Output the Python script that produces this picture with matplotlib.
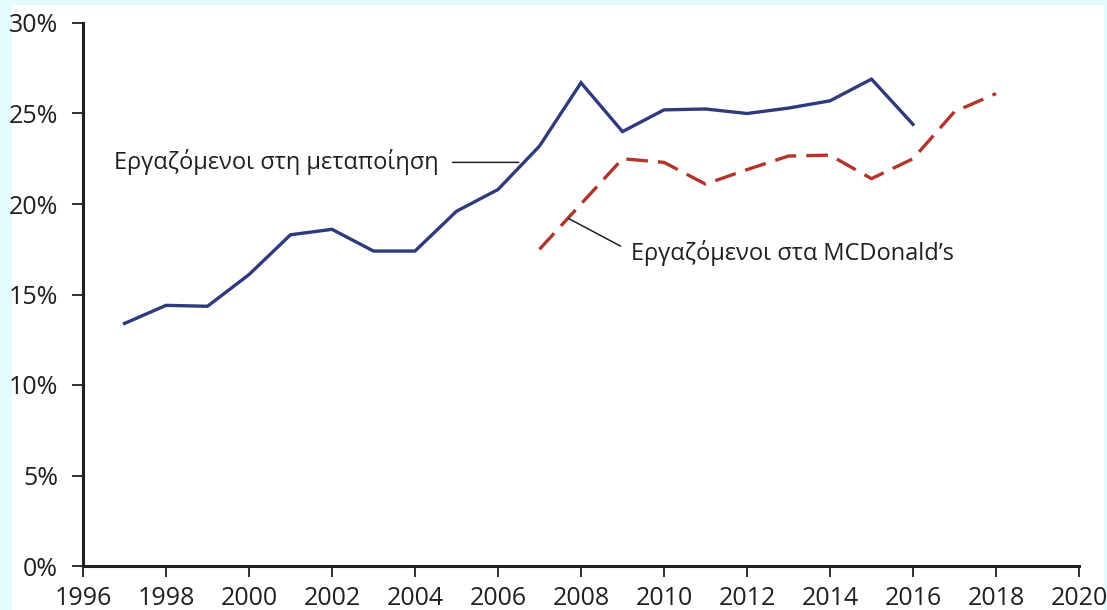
import matplotlib
matplotlib.use("Agg")
import matplotlib.pyplot as plt
import matplotlib.ticker as mtick
from matplotlib.patches import Rectangle

# ── Data ──────────────────────────────────────────────────────────────────────
years_manuf = [1997, 1998, 1999, 2000, 2001, 2002, 2003, 2004, 2005, 2006,
               2007, 2008, 2009, 2010, 2011, 2012, 2013, 2014, 2015, 2016]
manuf = [13.4, 14.4, 14.35, 16.1, 18.3, 18.6, 17.4, 17.4, 19.6, 20.8,
         23.2, 26.7, 24.0, 25.2, 25.25, 25.0, 25.3, 25.7, 26.9, 24.4]

years_mcd = [2007, 2008, 2009, 2010, 2011, 2012, 2013, 2014, 2015, 2016,
             2017, 2018]
mcd = [17.5, 20.0, 22.5, 22.3, 21.1, 21.9, 22.65, 22.7, 21.4, 22.5,
       25.1, 26.1]

label_manuf = "Εργαζόμενοι στη μεταποίηση"
label_mcd = "Εργαζόμενοι στα MCDonald’s"

x_ticks = list(range(1996, 2021, 2))
y_ticks = [0, 5, 10, 15, 20, 25, 30]

BLUE = "#2f3a7c"
RED = "#b3342b"
BG = "#e4fbfd"
INK = "#231f20"

plt.rcParams["font.family"] = ["Open Sans", "DejaVu Sans"]

fig = plt.figure(figsize=(11.07, 6.10), dpi=100, facecolor=BG)
fig.patches.append(Rectangle((12 / 1107, 0), (1104 - 12) / 1107, 1 - 5 / 610,
                             transform=fig.transFigure, facecolor="white",
                             edgecolor="none", zorder=-10))
ax = fig.add_axes([83 / 1107, 1 - 566 / 610, (1079 - 83) / 1107, (566 - 23) / 610])
ax.set_facecolor("none")

ax.plot(years_manuf, manuf, color=BLUE, lw=2.4, solid_joinstyle="miter")
ax.plot(years_mcd, mcd, color=RED, lw=2.4, dashes=(6.5, 3))

ax.set_xlim(1996, 2020)
ax.set_ylim(0, 30)
ax.set_xticks(x_ticks)
ax.set_yticks(y_ticks)
ax.yaxis.set_major_formatter(mtick.PercentFormatter(decimals=0))
ax.tick_params(direction="out", length=8, width=1.3, labelsize=18,
               colors=INK)
ax.tick_params(axis="x", pad=6.5)
ax.tick_params(axis="y", pad=10)
for s in ["top", "right"]:
    ax.spines[s].set_visible(False)
for s in ["left", "bottom"]:
    ax.spines[s].set_linewidth(2.2)
    ax.spines[s].set_color(INK)

# annotations with leader lines
ax.annotate(label_manuf, xy=(2006.5, 22.3), xytext=(1996.75, 22.3),
            fontsize=17, color=INK, va="center", ha="left",
            arrowprops=dict(arrowstyle="-", color=INK, lw=1.1,
                            relpos=(1, 0.5), shrinkA=8, shrinkB=0))
ax.annotate(label_mcd, xy=(2007.7, 19.2), xytext=(2009.2, 17.3),
            fontsize=17, color=INK, va="center", ha="left",
            arrowprops=dict(arrowstyle="-", color=INK, lw=1.1,
                            relpos=(0, 0.55), shrinkA=6, shrinkB=0))

fig.savefig("out.png", dpi=100, facecolor=BG)
